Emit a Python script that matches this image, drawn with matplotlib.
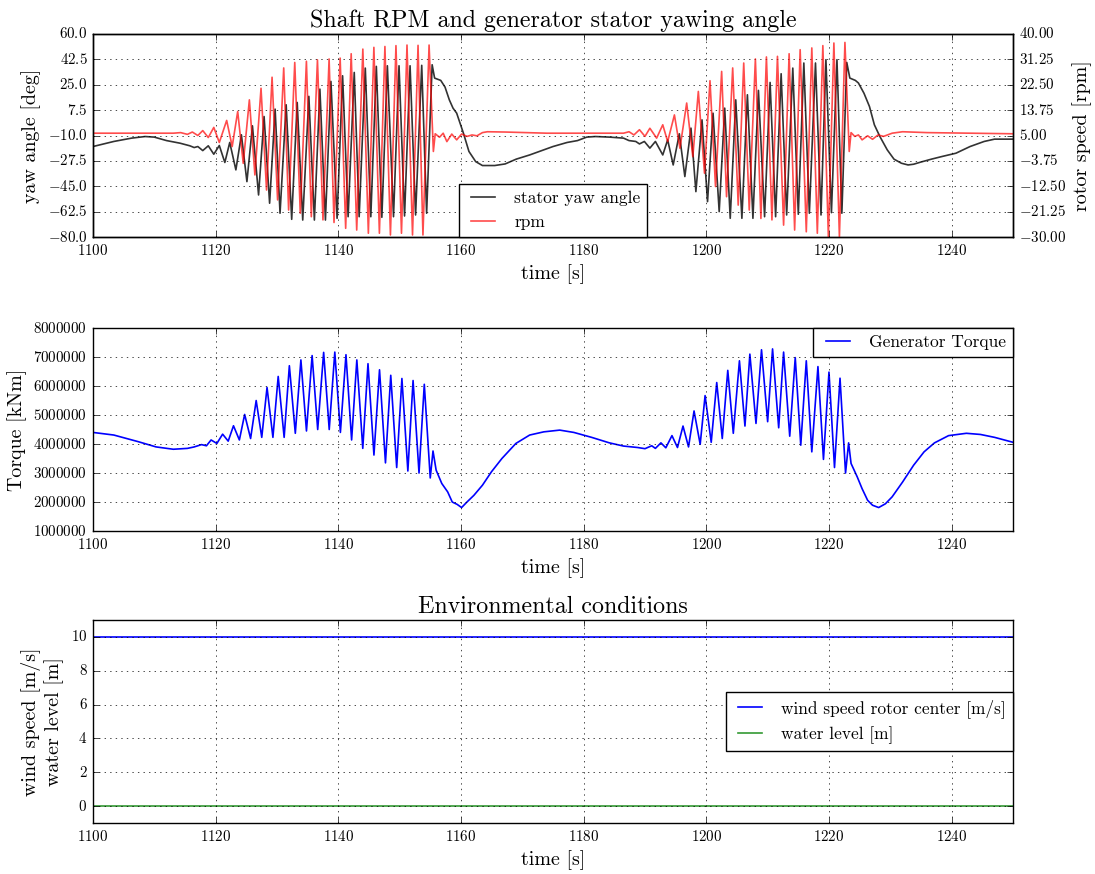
import numpy as np
import matplotlib
matplotlib.use("Agg")
import matplotlib.pyplot as plt

plt.style.use("classic")
plt.rcParams.update(
    {
        "font.family": "serif",
        "font.serif": ["cmr10"],
        "mathtext.fontset": "cm",
        "axes.formatter.use_mathtext": True,
        "axes.unicode_minus": True,
        "figure.facecolor": "white",
        "savefig.facecolor": "white",
    }
)

# ---- stator yaw angle [deg] (peaks / troughs)
yaw_t = [
    1100, 1103.4, 1106.3, 1108.5, 1110, 1112, 1114.2, 1115.8, 1116.5, 1117.1,
    1117.9, 1118.8, 1119.7, 1120.6, 1121.5, 1122.3, 1123.3, 1124.2, 1125.1, 1126.0,
    1127.0, 1127.9, 1128.8, 1129.7, 1130.5, 1131.5, 1132.4, 1133.3, 1134.2, 1135.2,
    1136.1, 1137.0, 1137.9, 1138.8, 1139.8, 1140.7, 1141.6, 1142.6, 1143.4, 1144.4,
    1145.3, 1146.2, 1147.1, 1148.0, 1149.0, 1149.9, 1150.8, 1151.7, 1152.6, 1153.6,
    1154.4, 1155.3, 1155.7, 1156.7, 1157.4, 1158.1, 1158.7, 1159.3, 1160.4, 1161.3,
    1162.4, 1163.5, 1165.5, 1167.2, 1169.0, 1171.2, 1173.5, 1175.0, 1177.3, 1179.0,
    1180.5, 1181.9, 1184.2, 1186.5, 1187.4, 1188.5, 1189.1, 1189.9, 1190.8, 1191.7,
    1192.9, 1193.7, 1194.6, 1195.6, 1196.5, 1197.5, 1198.3, 1199.3, 1200.2, 1201.1,
    1202.1, 1203.0, 1203.9, 1204.8, 1205.8, 1206.7, 1207.6, 1208.5, 1209.5, 1210.4,
    1211.3, 1212.2, 1213.1, 1214.1, 1215.0, 1215.9, 1216.8, 1217.8, 1218.7, 1219.5,
    1220.4, 1221.3, 1222.1, 1222.9, 1223.4, 1224.3, 1224.8, 1225.7, 1226.6, 1227.4,
    1228.3, 1229.5, 1230.6, 1231.8, 1232.9, 1233.8, 1234.9, 1236.7, 1238.4, 1240.7,
    1243.0, 1245.3, 1247.0, 1250,
]
yaw_deg = [
    -17.6, -14.1, -11.8, -10.7, -11.1, -13.5, -15.3, -17.1, -18.3, -17.6,
    -20.4, -17.1, -22.9, -16.9, -28.6, -14.8, -33.7, -9.5, -41.8, -3.3,
    -51.0, 3.1, -56.7, 8.2, -63.6, 11.2, -67.8, 12.8, -68.3, 17.0,
    -68.3, 22.0, -68.3, 27.3, -67.1, 31.2, -66.0, 33.5, -66.0, 36.5,
    -66.0, 37.7, -66.4, 38.1, -66.0, 38.1, -65.5, 38.1, -64.8, 38.4,
    -63.6, 38.8, 29.6, 28.0, 23.4, 14.6, 8.9, 5.4, -8.4, -21.0,
    -28.0, -30.7, -30.7, -29.6, -26.3, -23.4, -19.9, -17.6, -14.8, -13.5,
    -11.1, -10.7, -11.1, -11.8, -13.5, -14.1, -15.8, -14.1, -18.7, -14.1,
    -23.4, -13.0, -30.3, -8.8, -38.3, -4.9, -48.7, 0.8, -55.6, 5.4,
    -62.5, 8.9, -67.1, 14.6, -67.1, 18.1, -67.1, 21.1, -66.0, 26.6,
    -66.0, 32.6, -64.8, 36.5, -64.3, 40.0, -63.6, 40.0, -64.8, 42.3,
    -63.2, 42.3, -63.6, 40.4, 29.6, 28.0, 26.2, 19.2, 10.0, -2.6,
    -10.7, -19.9, -26.3, -29.1, -30.3, -29.8, -28.4, -26.3, -24.5, -22.2,
    -17.6, -14.1, -12.5, -12.5,
]

# ---- shaft speed [rpm]
rpm_t = [
    1100, 1113.1, 1114.3, 1115.4, 1116.2, 1117.1, 1117.9, 1118.8, 1119.7, 1120.6,
    1121.8, 1122.7, 1123.6, 1124.5, 1125.5, 1126.4, 1127.4, 1128.3, 1129.2, 1130.1,
    1131.1, 1131.9, 1132.9, 1133.8, 1134.8, 1135.6, 1136.6, 1137.5, 1138.5, 1139.3,
    1140.3, 1141.2, 1142.1, 1143.0, 1144.0, 1144.9, 1145.8, 1146.7, 1147.6, 1148.5,
    1149.4, 1150.3, 1151.2, 1152.1, 1153.0, 1153.8, 1154.8, 1155.5, 1155.8, 1156.5,
    1157.1, 1157.7, 1158.5, 1159.3, 1160.1, 1161.0, 1161.8, 1162.6, 1163.5, 1164.3,
    1167.2, 1174.0, 1186.5, 1187.4, 1188.2, 1189.1, 1190.0, 1190.8, 1191.9, 1192.9,
    1193.7, 1194.8, 1195.7, 1196.8, 1197.8, 1198.7, 1199.7, 1200.6, 1201.5, 1202.5,
    1203.3, 1204.3, 1205.2, 1206.1, 1207.0, 1208.0, 1208.9, 1209.8, 1210.7, 1211.6,
    1212.6, 1213.5, 1214.4, 1215.3, 1216.3, 1217.2, 1218.1, 1219.0, 1219.9, 1220.8,
    1221.7, 1222.6, 1223.3, 1223.6, 1224.2, 1224.8, 1225.4, 1226.3, 1227.1, 1228.0,
    1228.9, 1230.3, 1232.0, 1236.0, 1250,
]
rpm_val = [
    5.8, 5.8, 6.0, 5.4, 6.2, 5.0, 6.7, 4.3, 7.8, 2.6,
    10.2, 1.2, 13.3, -4.6, 17.3, -8.6, 21.3, -13.8, 25.1, -17.2,
    28.3, -20.7, 30.2, -21.8, 30.6, -23.0, 31.1, -24.1, 31.4, -25.0,
    31.7, -27.0, 33.2, -27.6, 34.8, -28.7, 35.4, -28.7, 35.7, -29.3,
    36.0, -28.7, 36.2, -29.3, 36.1, -29.3, 36.2, -0.5, 5.6, 4.4,
    5.8, 2.9, 5.5, 3.5, 5.5, 4.7, 5.2, 4.9, 6.0, 6.3,
    6.2, 5.8, 5.8, 6.3, 5.2, 7.0, 4.7, 7.5, 4.1, 8.7,
    2.9, 12.1, 0.6, 16.2, -2.3, 20.2, -8.0, 23.9, -12.6, 27.1,
    -16.1, 28.3, -19.0, 30.0, -20.7, 31.4, -23.6, 32.1, -24.1, 32.3,
    -25.9, 33.2, -27.6, 34.6, -28.2, 35.2, -28.7, 36.0, -29.9, 36.9,
    -30.0, 37.1, -0.5, 6.0, 4.7, 5.2, 3.5, 4.9, 3.7, 5.2,
    4.7, 5.8, 6.3, 6.0, 5.6,
]

# ---- generator torque [kNm]
torque_t = [
    1100, 1103.4, 1107.4, 1110.3, 1113.1, 1115.4, 1116.5, 1117.7, 1118.5, 1119.26,
    1120.2, 1121.14, 1122.05, 1122.91, 1123.87, 1124.73, 1125.7, 1126.61, 1127.52, 1128.38,
    1129.34, 1130.2, 1131.17, 1132.02, 1132.99, 1133.9, 1134.81, 1135.73, 1136.64, 1137.61,
    1138.52, 1139.43, 1140.34, 1141.25, 1142.17, 1143.02, 1143.99, 1144.84, 1145.81, 1146.72,
    1147.69, 1148.55, 1149.52, 1150.37, 1151.34, 1152.19, 1153.16, 1154.02, 1154.99, 1155.44,
    1155.95, 1156.87, 1157.83, 1158.58, 1159.37, 1160.1, 1160.97, 1162.1, 1163.5, 1164.96,
    1166.67, 1168.95, 1171.2, 1173.5, 1176.1, 1178.4, 1181.3, 1184.2, 1186.5, 1188.8,
    1190.0, 1191.1, 1191.7, 1192.6, 1193.4, 1194.4, 1195.3, 1196.2, 1197.1, 1198.0,
    1199.0, 1199.8, 1200.8, 1201.7, 1202.6, 1203.5, 1204.4, 1205.4, 1206.3, 1207.1,
    1208.1, 1209.0, 1210.0, 1210.8, 1211.8, 1212.6, 1213.6, 1214.5, 1215.4, 1216.3,
    1217.2, 1218.2, 1219.1, 1220.0, 1220.9, 1221.8, 1222.7, 1223.2, 1223.6, 1224.6,
    1225.4, 1226.3, 1227.1, 1228.1, 1229.2, 1230.3, 1232.0, 1233.8, 1235.5, 1237.2,
    1239.5, 1242.4, 1244.7, 1247.0, 1250,
]
torque_mknm = [
    4.40, 4.31, 4.08, 3.90, 3.82, 3.85, 3.90, 3.98, 3.94, 4.14,
    4.02, 4.34, 4.10, 4.63, 4.14, 5.02, 4.19, 5.50, 4.23, 5.95,
    4.23, 6.33, 4.23, 6.70, 4.37, 6.90, 4.45, 7.05, 4.50, 7.16,
    4.50, 7.17, 4.40, 7.08, 4.14, 6.90, 3.85, 6.77, 3.62, 6.56,
    3.35, 6.37, 3.19, 6.26, 3.07, 6.19, 3.00, 6.06, 2.83, 3.76,
    3.10, 2.64, 2.35, 2.00, 1.92, 1.81, 2.00, 2.23, 2.58, 3.04,
    3.50, 4.02, 4.31, 4.42, 4.48, 4.40, 4.23, 4.04, 3.93, 3.88,
    3.84, 3.94, 3.85, 4.04, 3.87, 4.29, 3.88, 4.62, 3.90, 5.14,
    3.99, 5.67, 4.06, 6.12, 4.19, 6.54, 4.37, 6.87, 4.62, 7.10,
    4.71, 7.25, 4.77, 7.28, 4.56, 7.17, 4.27, 6.98, 3.96, 6.87,
    3.73, 6.67, 3.47, 6.48, 3.19, 6.27, 3.00, 4.04, 3.33, 2.87,
    2.46, 2.06, 1.89, 1.81, 1.94, 2.18, 2.69, 3.27, 3.73, 4.04,
    4.29, 4.37, 4.33, 4.23, 4.06,
]

# ---- environmental conditions (constant over the window)
env_t = [1100, 1250]
wind_speed = [10.0, 10.0]
water_level = [0.0, 0.0]

time_ticks = [1100, 1120, 1140, 1160, 1180, 1200, 1220, 1240]

torque = np.array(torque_mknm) * 1e6

fig = plt.figure(figsize=(10.95, 8.74), dpi=100)
left, width, height = 0.0849, 0.8402, 0.2323

TICK_FS = 10.8
LABEL_FS = 14.4
TITLE_FS = 17.28
LEG_FS = 12.5

# Panel 1: yaw angle + rpm
ax1 = fig.add_axes([left, 0.7288, width, height])
ax1b = ax1.twinx()
l1 = ax1.plot(yaw_t, yaw_deg, color="k", alpha=0.8, lw=1.2, label="stator yaw angle")
l2 = ax1b.plot(rpm_t, rpm_val, color="r", alpha=0.7, lw=1.2, label="rpm")
ax1.set_xlim(1100, 1250)
ax1.set_ylim(-80, 60)
ax1b.set_ylim(-30, 40)
ax1.set_yticks(np.linspace(-80, 60, 9))
ax1b.set_yticks(np.linspace(-30, 40, 9))
ax1.set_xticks(time_ticks)
ax1.grid(True)
ax1.set_title("Shaft RPM and generator stator yawing angle", fontsize=TITLE_FS)
ax1.set_xlabel("time [s]", fontsize=LABEL_FS)
ax1.set_ylabel("yaw angle [deg]", fontsize=LABEL_FS)
ax1b.set_ylabel("rotor speed [rpm]", fontsize=LABEL_FS)
ax1.tick_params(labelsize=TICK_FS)
ax1b.tick_params(labelsize=TICK_FS)
ax1b.legend(l1 + l2, [h.get_label() for h in l1 + l2], loc="lower center",
            borderaxespad=0, fontsize=LEG_FS)

# Panel 2: generator torque
ax2 = fig.add_axes([left, 0.3924, width, height])
ax2.plot(torque_t, torque, color="b", lw=1.2, label="Generator Torque")
ax2.set_xlim(1100, 1250)
ax2.set_ylim(1e6, 8e6)
ax2.set_yticks(np.arange(1e6, 8.5e6, 1e6))
ax2.set_xticks(time_ticks)
ax2.grid(True)
ax2.set_xlabel("time [s]", fontsize=LABEL_FS)
ax2.set_ylabel("Torque [kNm]", fontsize=LABEL_FS)
ax2.tick_params(labelsize=TICK_FS)
ax2.legend(loc="upper right", borderaxespad=0, fontsize=LEG_FS)

# Panel 3: environment
ax3 = fig.add_axes([left, 0.0584, width, height])
ax3.plot(env_t, wind_speed, color="b", lw=1.2, label="wind speed rotor center [m/s]")
ax3.plot(env_t, water_level, color="g", lw=1.2, alpha=0.8, label="water level [m]")
ax3.set_xlim(1100, 1250)
ax3.set_ylim(-1, 11)
ax3.set_yticks([0, 2, 4, 6, 8, 10])
ax3.set_xticks(time_ticks)
ax3.grid(True)
ax3.set_title("Environmental conditions", fontsize=TITLE_FS)
ax3.set_xlabel("time [s]", fontsize=LABEL_FS)
ax3.set_ylabel("wind speed [m/s]\nwater level [m]", fontsize=LABEL_FS)
ax3.tick_params(labelsize=TICK_FS)
ax3.legend(loc="center right", borderaxespad=0, fontsize=LEG_FS)

fig.savefig("out.png", dpi=100)
